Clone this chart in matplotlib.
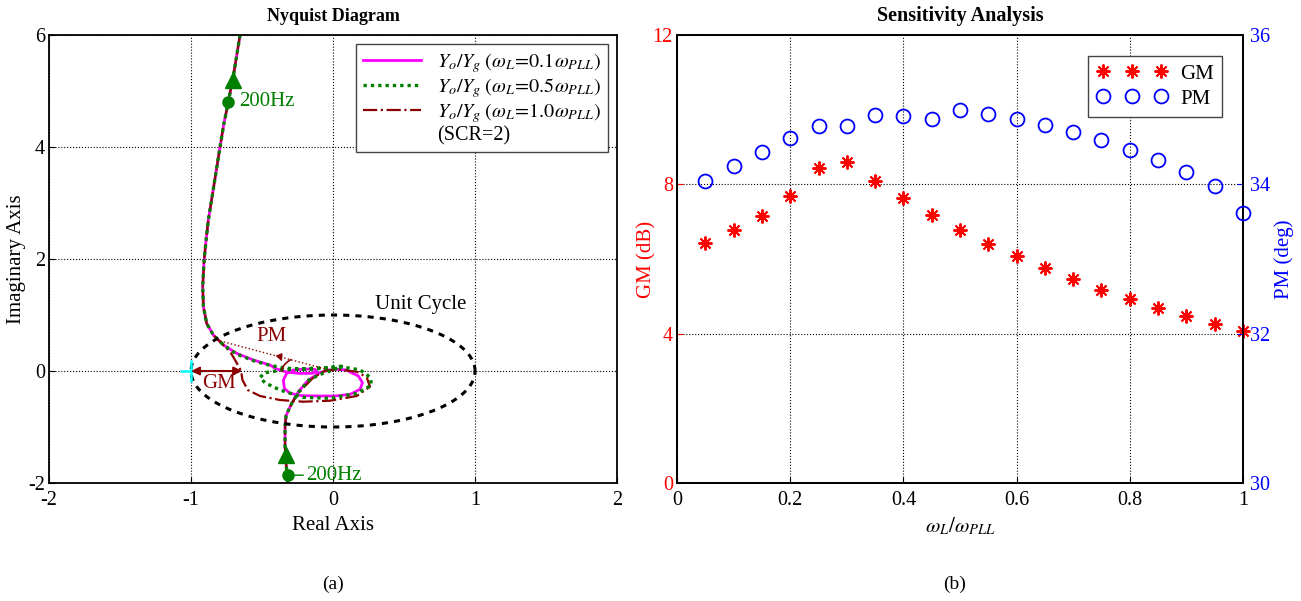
import numpy as np
import matplotlib
matplotlib.use('Agg')
import matplotlib.pyplot as plt
from matplotlib.lines import Line2D

plt.rcParams['font.family'] = ['Liberation Serif', 'DejaVu Serif']
plt.rcParams['mathtext.fontset'] = 'stix'
plt.rcParams['axes.unicode_minus'] = False
plt.rcParams['font.size'] = 15

# ---- Nyquist data ----
# upper branch, shared by the three curves
upper_re = [-0.655, -0.70, -0.737, -0.77, -0.796, -0.84, -0.878, -0.894, -0.908, -0.918, -0.913, -0.89, -0.843]
upper_im = [6.0, 5.3, 4.81, 4.4, 4.0, 3.3, 2.70, 2.34, 1.98, 1.51, 1.15, 0.85, 0.643]
# lower branch, shared
lower_re = [-0.291, -0.31, -0.331, -0.338, -0.338, -0.331, -0.322, -0.319]
lower_im = [-0.577, -0.68, -0.80, -0.99, -1.35, -1.65, -1.89, -2.12]

# loops around the origin, one per wL
loop01_re = [-0.772, -0.678, -0.561, -0.444, -0.408, -0.338, -0.244, -0.150, -0.115, -0.127, -0.197, -0.279,
             -0.326, -0.350, -0.343, -0.303, -0.221, -0.103, 0.014, 0.120, 0.190, 0.207, 0.178, 0.120, 0.096,
             0.038, -0.033, -0.092, -0.174, -0.244]
loop01_im = [0.464, 0.315, 0.196, 0.107, 0.048, -0.012, -0.042, -0.042, -0.012, 0.030, 0.036, 0.018,
             -0.042, -0.161, -0.310, -0.399, -0.440, -0.446, -0.446, -0.417, -0.327, -0.208, -0.089, -0.018, 0.018,
             0.030, 0.018, -0.030, -0.161, -0.369]

loop05_re = [-0.772, -0.678, -0.561, -0.444, -0.33, -0.20, -0.05, 0.07, 0.19, 0.26, 0.272, 0.167, -0.021,
             -0.209, -0.373, -0.48, -0.514, -0.48, -0.35, -0.20, -0.05, 0.06, 0.0, -0.09, -0.17, -0.24]
loop05_im = [0.464, 0.30, 0.185, 0.10, 0.05, 0.03, 0.05, 0.07, 0.02, -0.11, -0.25, -0.40, -0.488,
             -0.47, -0.34, -0.21, -0.113, -0.03, 0.02, 0.04, 0.06, 0.085, 0.02, -0.06, -0.16, -0.37]

loop10_re = [-0.796, -0.725, -0.69, -0.648, -0.638, -0.60, -0.514, -0.373, -0.209, -0.021, 0.167, 0.26,
             0.237, 0.167, 0.026, -0.06, -0.14, -0.21, -0.26]
loop10_im = [0.524, 0.345, 0.196, 0.006, -0.16, -0.34, -0.446, -0.518, -0.548, -0.53, -0.446, -0.28,
             -0.113, -0.012, 0.03, 0.0, -0.12, -0.30, -0.45]

marker_re = [-0.737, -0.316]
marker_im = [4.81, -1.86]
arrow_re = [-0.705, -0.33]
arrow_im = [5.2, -1.5]

# ---- sensitivity data ----
wl = [0.05, 0.10, 0.15, 0.20, 0.25, 0.30, 0.35, 0.40, 0.45, 0.50,
      0.55, 0.60, 0.65, 0.70, 0.75, 0.80, 0.85, 0.90, 0.95, 1.00]
gm = [6.43, 6.79, 7.15, 7.70, 8.45, 8.60, 8.09, 7.64, 7.19, 6.79,
      6.41, 6.09, 5.76, 5.47, 5.18, 4.93, 4.69, 4.47, 4.26, 4.06]
pm = [34.05, 34.25, 34.43, 34.62, 34.78, 34.78, 34.93, 34.91, 34.88, 34.99,
      34.94, 34.87, 34.80, 34.70, 34.59, 34.46, 34.32, 34.17, 33.98, 33.62]

DRED = '#8b0000'
GREEN = '#007f00'
ASTER = (8, 2, 0)  # matlab-like asterisk

fig = plt.figure(figsize=(13.01, 6.01), dpi=100)
ax = fig.add_axes([0.0377, 0.1963, 0.4366, 0.7455])
axr = fig.add_axes([0.5204, 0.1963, 0.435, 0.7455])

def curve(loop_re, loop_im):
    return upper_re + loop_re + lower_re, upper_im + loop_im + lower_im

x1, y1 = curve(loop01_re, loop01_im)
x5, y5 = curve(loop05_re, loop05_im)
x10, y10 = curve(loop10_re, loop10_im)

l1, = ax.plot(x1, y1, color='magenta', lw=2)
l10, = ax.plot(x10, y10, color=DRED, lw=1.6, ls='-.')
l5, = ax.plot(x5, y5, color=GREEN, lw=2.4, ls=(0, (1, 1.2)))

# unit circle
th = np.linspace(0, 2 * np.pi, 300)
ax.plot(np.cos(th), np.sin(th), color='black', lw=2.2, ls=(0, (2, 2)))
ax.text(0.62, 1.18, 'Unit Cycle', ha='center', va='center', fontsize=15)

# markers and arrows
ax.plot(marker_re, marker_im, 'o', color=GREEN, ms=8)
ax.plot(arrow_re, arrow_im, '^', color=GREEN, ms=11)
ax.text(-0.66, 4.81, '200Hz', color=GREEN, va='center', fontsize=15)
ax.annotate('200Hz', xy=(marker_re[1], marker_im[1]), xytext=(-0.19, -1.86),
            color=GREEN, va='center', fontsize=15,
            arrowprops=dict(arrowstyle='-', color=GREEN, lw=1, shrinkA=0, shrinkB=0))

# GM / PM annotation
ax.plot([-1], [0], '+', color='cyan', ms=16, mew=1.8)
ax.annotate('', xy=(-1.0, 0.0), xytext=(-0.64, 0.0),
            arrowprops=dict(arrowstyle='<|-|>', color=DRED, lw=1.5, mutation_scale=12, shrinkA=0, shrinkB=0))
ax.text(-0.8, -0.22, 'GM', color=DRED, ha='center', va='center', fontsize=15)
ax.plot([-0.82, 0.0], [0.554, 0.0], color=DRED, lw=1, ls=':')
ph = np.linspace(0, np.arctan2(0.554, 0.82), 20)
ax.plot(-0.36 * np.cos(ph), 0.36 * np.sin(ph), color=DRED, lw=1.2)
ax.annotate('PM', xy=(-0.36, 0.17), xytext=(-0.43, 0.62), color=DRED, ha='center', va='center', fontsize=15,
            arrowprops=dict(arrowstyle='-|>', color=DRED, lw=1, mutation_scale=10, shrinkA=6, shrinkB=0))

ax.set_xlim(-2, 2)
ax.set_ylim(-2, 6)
ax.set_xticks([-2, -1, 0, 1, 2])
ax.set_yticks([-2, 0, 2, 4, 6])
ax.grid(True, ls=':', color='black', lw=0.8)
ax.set_xlabel('Real Axis', labelpad=4)
ax.set_ylabel('Imaginary Axis')
ax.yaxis.set_label_coords(-0.040, 0.5)
ax.set_title('Nyquist Diagram', fontweight='bold', fontsize=13, pad=10)
ax.tick_params(direction='in', length=4, labelsize=14.5, pad=6)
ax.tick_params(axis='y', pad=3)
for s in ax.spines.values():
    s.set_linewidth(1.3)

blank = Line2D([], [], ls='none')
ax.legend([l1, l5, l10, blank],
          [r'$Y_o/Y_g\;(\omega_L\!=\!0.1\omega_{PLL})$',
           r'$Y_o/Y_g\;(\omega_L\!=\!0.5\omega_{PLL})$',
           r'$Y_o/Y_g\;(\omega_L\!=\!1.0\omega_{PLL})$',
           '(SCR=2)'],
          loc='upper right', fontsize=14.5, fancybox=False, edgecolor='#444444',
          handlelength=2.9, labelspacing=0.05, borderpad=0.35, framealpha=1, borderaxespad=0.45)

# ---- sensitivity plot ----
axp = axr.twinx()
hg, = axr.plot(wl, gm, ls='none', marker=ASTER, color='red', ms=10, mew=1.4, clip_on=False, zorder=5)
hp, = axp.plot(wl, pm, 'o', mfc='none', mec='blue', ms=10, mew=1.3, clip_on=False, zorder=5)
axr.set_xlim(0, 1)
axr.set_ylim(0, 12)
axr.set_yticks([0, 4, 8, 12])
axp.set_ylim(30, 36)
axp.set_yticks([30, 32, 34, 36])
axr.set_xticks([0, 0.2, 0.4, 0.6, 0.8, 1.0])
axr.set_xticklabels(['0', '0.2', '0.4', '0.6', '0.8', '1'])
axr.grid(True, ls=':', color='black', lw=0.8)
axr.tick_params(axis='y', colors='red', direction='in', length=4, labelsize=14.5, pad=3)
axr.tick_params(axis='x', direction='in', length=4, labelsize=14.5, pad=6)
axp.tick_params(axis='y', colors='blue', direction='in', length=4, labelsize=14.5, pad=5)
axr.set_ylabel('GM (dB)', color='red')
axr.yaxis.set_label_coords(-0.037, 0.5)
axp.set_ylabel('PM (deg)', color='blue')
axp.yaxis.set_label_coords(1.056, 0.5)
axr.set_xlabel(r'$\omega_L/\omega_{PLL}$', labelpad=4)
axr.set_title('Sensitivity Analysis', fontweight='bold', fontsize=14.5, pad=10)
for s in list(axr.spines.values()) + list(axp.spines.values()):
    s.set_linewidth(1.3)
    s.set_color('black')
axp.legend([hg, hp], ['GM', 'PM'], loc='upper right', numpoints=3, fontsize=15, fancybox=False,
           edgecolor='#444444', framealpha=1, borderaxespad=1.0, handlelength=3.4, handletextpad=0.6,
           labelspacing=0.25, borderpad=0.4)

fig.text(0.256, 0.02, '(a)', ha='center', fontsize=14)
fig.text(0.734, 0.02, '(b)', ha='center', fontsize=14)

fig.savefig('out.png', dpi=100)
